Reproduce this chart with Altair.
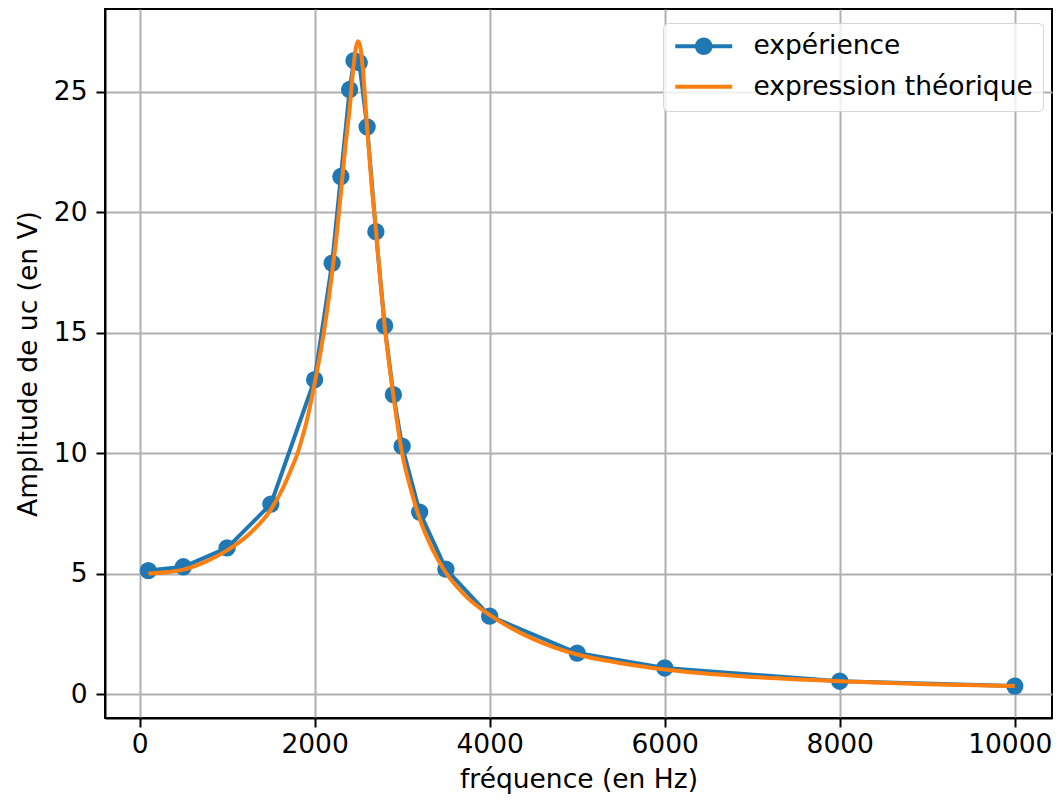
import altair as alt
import pandas as pd

exp_freq = [100, 500, 1000, 1500, 2000, 2200, 2300, 2400, 2450, 2510, 2600, 2700,
            2800, 2900, 3000, 3200, 3500, 4000, 5000, 6000, 8000, 10000]
exp_amp = [5.14, 5.30, 6.08, 7.90, 13.06, 17.90, 21.49, 25.10, 26.30, 26.22, 23.55, 19.20,
           15.30, 12.44, 10.30, 7.57, 5.20, 3.25, 1.72, 1.10, 0.55, 0.35]

# Theoretical curve
th_freq = [100, 300, 500, 750, 1000, 1250, 1500, 1650, 1750, 1800, 1850, 1900, 1950,
           2000, 2050, 2100, 2200, 2250, 2300, 2350, 2400, 2440, 2470, 2495, 2520, 2550,
           2575, 2600, 2650, 2700, 2750, 2800, 2900, 3000, 3100, 3200, 3350, 3500, 3750,
           4000, 4500, 5000, 5500, 6000, 7000, 8000, 9000, 10000]
th_amp = [5.02, 5.07, 5.18, 5.50, 5.98, 6.65, 7.67, 8.65, 9.50, 9.95, 10.55, 11.20, 12.00,
          12.90, 13.85, 14.90, 17.50, 19.00, 20.80, 22.70, 24.30, 25.90, 26.80, 27.10, 26.90,
          26.00, 24.80, 23.50, 21.20, 19.30, 17.20, 15.30, 12.40, 10.00, 8.50, 7.30, 6.00,
          5.05, 4.00, 3.30, 2.30, 1.66, 1.30, 1.04, 0.73, 0.55, 0.43, 0.35]

series_names = ["expérience", "expression théorique"]
series_colors = ["#1f77b4", "#ff7f0e"]
x_ticks = [0, 2000, 4000, 6000, 8000, 10000]
y_ticks = [0, 5, 10, 15, 20, 25]

exp_df = pd.DataFrame({"f": exp_freq, "u": exp_amp})
th_df = pd.DataFrame({"f": th_freq, "u": th_amp})
leg_df = pd.DataFrame({"series": series_names})

FONT = "DejaVu Sans"
FS = 26.5
LW = 4

x_enc = alt.X("f:Q", scale=alt.Scale(domain=[-395, 10425], nice=False, zero=False),
              axis=alt.Axis(values=x_ticks, format="d", title="fréquence (en Hz)",
                            labelPadding=4, titlePadding=9, labelFlush=False,
                            labelOffset={"condition": {"test": "datum.value == 10000",
                                                       "value": -5}, "value": 0}))
y_enc = alt.Y("u:Q", scale=alt.Scale(domain=[-0.975, 28.44], nice=False, zero=False),
              axis=alt.Axis(values=y_ticks, format="d", title="Amplitude de uc (en V)",
                            labelPadding=9, titlePadding=11, labelFlush=False))

exp_line = alt.Chart(exp_df).mark_line(strokeWidth=LW, color=series_colors[0]).encode(
    x=x_enc, y=y_enc)
exp_pts = alt.Chart(exp_df).mark_point(filled=True, opacity=1, size=300,
                                       color=series_colors[0]).encode(x=x_enc, y=y_enc)
th_line = alt.Chart(th_df).mark_line(strokeWidth=LW, color=series_colors[1],
                                     interpolate="monotone").encode(x=x_enc, y=y_enc)

path_exp = ("M-1,-0.18H4.18V0.18H-1Z "
            "M0.79,0A0.8,0.8 0 1,1 2.39,0A0.8,0.8 0 1,1 0.79,0Z")
path_line = "M-1,-0.18H4.18V0.18H-1Z"

legend = alt.Legend(title=None, orient="none", legendX=558, legendY=14, padding=10,
                    rowPadding=13.5, labelOffset=54, symbolSize=484,
                    symbolOpacity=1, symbolStrokeWidth=0,
                    labelFont=FONT, labelFontSize=FS, labelColor="black",
                    fillColor="rgba(255,255,255,0.8)", strokeColor="#d5d5d5",
                    cornerRadius=5, labelLimit=500)

leg_layer = alt.Chart(leg_df).mark_point(filled=True, opacity=0).encode(
    color=alt.Color("series:N", scale=alt.Scale(domain=series_names, range=series_colors),
                    legend=legend, sort=series_names),
    shape=alt.Shape("series:N", scale=alt.Scale(domain=series_names,
                                                range=[path_exp, path_line]),
                    legend=legend, sort=series_names),
)

chart = alt.layer(exp_line, exp_pts, th_line, leg_layer).properties(
    width=947, height=709,
    autosize=alt.AutoSizeParams(type="none"),
    padding={"left": 97, "top": 1, "right": 1, "bottom": 76},
).configure_view(
    stroke="black", strokeWidth=2
).configure_axis(
    labelFont=FONT, labelFontSize=FS, labelColor="black",
    titleFont=FONT, titleFontSize=FS, titleFontWeight="normal", titleColor="black",
    tickColor="black", tickSize=9, tickWidth=2,
    domainColor="black", domainWidth=2,
    grid=True, gridColor="#b0b0b0", gridWidth=2,
)

chart.save("out.html", embed_options={"renderer": "svg", "actions": False})
